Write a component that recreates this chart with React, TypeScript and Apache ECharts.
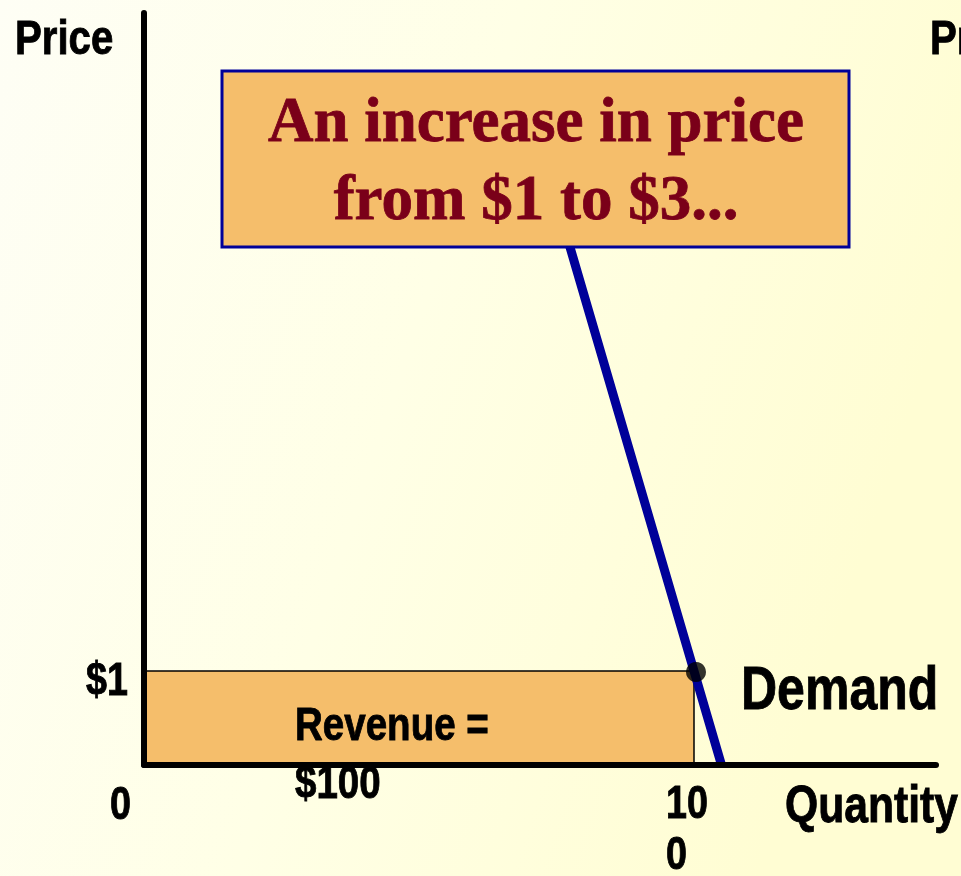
import React, { useEffect, useRef } from "react";
import * as echarts from "echarts";

// ---- data ----
const demandQuantity = [105, 100, 75];
const demandPrice = [0, 1, 6];
const initialQuantity = 100;
const initialPrice = 1;
const axisMaxQuantity = 144;
const axisMaxPrice = 8;
const priceTickLabel = "$1";
const originLabel = "0";
const quantityTickLines = ["10", "0"];
const revenueLines = ["Revenue =", "$100"];
const calloutLines = ["An increase in price", "from $1 to $3..."];
const axisNames = { price: "Price", quantity: "Quantity", curve: "Demand" };

const SANS = "'Liberation Sans', Arial, sans-serif";
const SERIF = "'Liberation Serif', 'Times New Roman', serif";
const NARROW = 0.82;

function sansText(text: string, x: number, y: number, size: number, align: string = "left") {
  return {
    type: "text",
    x,
    y,
    scaleX: NARROW,
    z: 50,
    silent: true,
    style: {
      text,
      x: 0,
      y: 0,
      fill: "#000",
      stroke: "#000",
      lineWidth: 0.9,
      font: `bold ${size}px ${SANS}`,
      textAlign: align,
      textVerticalAlign: "middle",
    },
  };
}

export default function App() {
  const ref = useRef<HTMLDivElement>(null);

  useEffect(() => {
    if (!ref.current) return;
    const chart = echarts.init(ref.current, null, { renderer: "svg" });
    const demandData = demandQuantity.map((q, i) => [q, demandPrice[i]]);

    chart.setOption({
      animation: false,
      grid: { left: 144, right: 25, top: 13, bottom: 111, containLabel: false },
      xAxis: {
        type: "value",
        min: 0,
        max: axisMaxQuantity,
        z: 10,
        axisLine: { show: true, onZero: false, lineStyle: { color: "#000", width: 6, cap: "round" } },
        axisTick: { show: false },
        axisLabel: { show: false },
        splitLine: { show: false },
      },
      yAxis: {
        type: "value",
        min: 0,
        max: axisMaxPrice,
        z: 10,
        axisLine: { show: true, onZero: false, lineStyle: { color: "#000", width: 6, cap: "round" } },
        axisTick: { show: false },
        axisLabel: { show: false },
        splitLine: { show: false },
      },
      series: [
        {
          type: "scatter",
          z: 1,
          data: [],
          markArea: {
            silent: true,
            itemStyle: { color: "#F5BE6B", borderColor: "#000", borderWidth: 1.5 },
            data: [[{ coord: [0, initialPrice] }, { coord: [initialQuantity, 0] }]],
          },
        },
        {
          type: "line",
          z: 3,
          data: demandData,
          showSymbol: false,
          symbol: "none",
          lineStyle: { color: "#000099", width: 9, cap: "butt" },
          silent: true,
        },
        {
          type: "scatter",
          z: 4,
          data: [[initialQuantity, initialPrice]],
          symbol: "circle",
          symbolSize: 20,
          symbolOffset: [2, 1],
          itemStyle: { color: "#000" },
          silent: true,
        },
      ],
      graphic: [
        {
          type: "rect",
          z: -100,
          silent: true,
          shape: { x: 0, y: 0, width: 961, height: 876 },
          style: {
            fill: {
              type: "linear",
              x: 0,
              y: 0,
              x2: 1,
              y2: 0.3,
              colorStops: [
                { offset: 0, color: "#FEFEF5" },
                { offset: 0.5, color: "#FFFFE6" },
                { offset: 1, color: "#FFFDD3" },
              ],
            },
          },
        },
        sansText(axisNames.price, 15, 37, 49),
        sansText(axisNames.price, 930, 37, 49),
        sansText(priceTickLabel, 128, 679, 46, "right"),
        sansText(originLabel, 110, 803, 46),
        sansText(quantityTickLines[0], 666, 802, 46),
        sansText(quantityTickLines[1], 666, 853, 46),
        sansText(axisNames.curve, 741, 688, 61),
        sansText(axisNames.quantity, 785, 804, 52),
        sansText(revenueLines[0], 295, 724, 47),
        sansText(revenueLines[1], 295, 782, 47),
        {
          type: "rect",
          z: 60,
          silent: true,
          shape: { x: 222, y: 71, width: 627, height: 176 },
          style: { fill: "#F5BE6B", stroke: "#000099", lineWidth: 3 },
        },
        {
          type: "text",
          z: 61,
          silent: true,
          x: 536,
          y: 120,
          style: {
            text: calloutLines[0],
            fill: "#7A0019",
            stroke: "#7A0019",
            lineWidth: 0.8,
            font: `bold 63px ${SERIF}`,
            textAlign: "center",
            textVerticalAlign: "middle",
          },
        },
        {
          type: "text",
          z: 61,
          silent: true,
          x: 536,
          y: 198,
          style: {
            text: calloutLines[1],
            fill: "#7A0019",
            stroke: "#7A0019",
            lineWidth: 0.8,
            font: `bold 63px ${SERIF}`,
            textAlign: "center",
            textVerticalAlign: "middle",
          },
        },
      ],
    });

    return () => chart.dispose();
  }, []);

  return (
    <div
      ref={ref}
      style={{ position: "fixed", left: 0, top: 0, width: 961, height: 876, overflow: "hidden" }}
    />
  );
}
